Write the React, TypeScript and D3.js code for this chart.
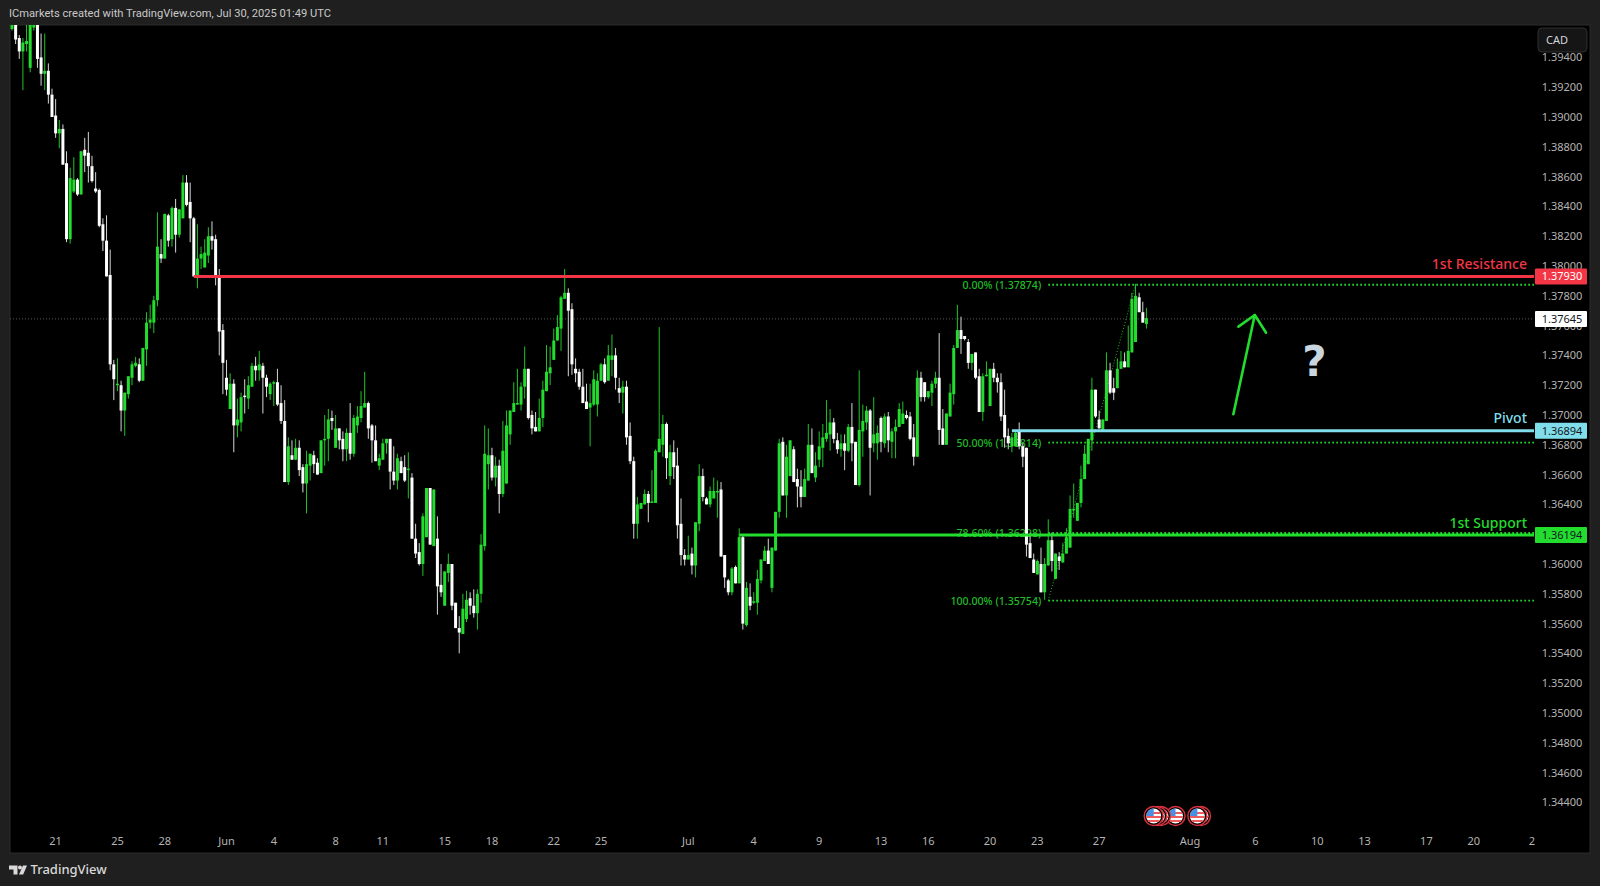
import { useEffect, useRef } from "react";
import * as d3 from "d3";

// candles are [open, high, low, close] in 1/10000 of a price unit
type Candle = number[];

const mayDrop: Candle[] = [
  [13959,13975,13958,13965],[13970,13980,13949,13952],[13953,13955,13939,13944],[13944,13953,13918,13950],
  [13949,13965,13944,13951],[13933,13970,13930,13964],[13960,13975,13958,13963],[13968,13975,13933,13939],
  [13940,13956,13921,13929],[13929,13956,13918,13931],[13931,13936,13909,13915],[13915,13919,13900,13900],
  [13901,13912,13886,13889],[13889,13898,13879,13892],[13892,13895,13868,13868],[13869,13877,13816,13818],
  [13818,13866,13815,13859],[13850,13873,13849,13858],[13858,13859,13847,13848],[13848,13877,13848,13877],
  [13878,13886,13863,13874],[13876,13890,13856,13867],[13867,13874,13856,13857],[13852,13863,13849,13850],
  [13851,13852,13826,13827],[13828,13832,13810,13817],[13817,13834,13793,13793],[13794,13811,13730,13734],
];
const mayRebound: Candle[] = [
  [13734,13737,13710,13724],[13720,13738,13716,13721],[13720,13723,13689,13703],[13703,13715,13686,13715],
  [13714,13726,13711,13726],[13725,13736,13720,13734],[13733,13739,13732,13735],[13734,13738,13722,13723],
  [13723,13745,13723,13745],[13744,13769,13733,13762],[13762,13774,13758,13764],[13762,13780,13755,13777],
  [13777,13836,13773,13813],[13808,13818,13802,13805],[13805,13835,13805,13835],[13834,13835,13813,13817],
  [13818,13840,13813,13839],[13839,13845,13809,13821],[13821,13838,13819,13838],[13832,13861,13832,13856],
  [13856,13861,13840,13841],[13843,13856,13816,13832],[13832,13833,13793,13793],[13793,13828,13785,13805],
  [13805,13813,13798,13808],[13799,13818,13799,13809],[13807,13826,13802,13820],[13820,13830,13811,13817],
  [13818,13821,13787,13793],
];
const juneSlide: Candle[] = [
  [13793,13798,13740,13756],[13757,13761,13714,13735],[13725,13737,13713,13717],[13704,13728,13704,13721],
  [13721,13724,13675,13693],[13693,13711,13685,13697],[13695,13715,13689,13712],[13713,13724,13701,13712],
  [13711,13726,13704,13720],[13719,13735,13719,13733],[13733,13739,13723,13730],[13730,13743,13723,13734],
  [13733,13735,13701,13725],[13725,13727,13712,13719],[13714,13722,13710,13721],[13721,13723,13706,13722],
  [13722,13731,13706,13707],[13708,13720,13694,13696],[13696,13710,13655,13655],[13655,13685,13653,13679],
  [13673,13683,13670,13670],[13670,13684,13670,13678],[13678,13683,13659,13663],[13665,13667,13648,13654],
  [13654,13676,13634,13667],[13666,13674,13656,13674],[13673,13676,13661,13667],[13668,13671,13660,13660],
];
const juneChop: Candle[] = [
  [13661,13683,13661,13683],[13683,13700,13666,13684],[13684,13704,13669,13697],[13698,13703,13690,13696],
  [13678,13700,13678,13691],[13691,13691,13677,13683],[13684,13689,13669,13677],[13677,13691,13669,13688],
  [13688,13708,13670,13674],[13674,13700,13672,13698],[13693,13706,13688,13699],[13698,13716,13695,13706],
  [13705,13729,13705,13708],[13708,13709,13684,13691],[13693,13694,13668,13683],[13683,13693,13669,13669],
  [13666,13674,13663,13671],[13670,13684,13670,13681],[13681,13684,13674,13684],[13684,13684,13650,13662],
  [13662,13679,13653,13656],[13656,13674,13650,13671],[13669,13672,13661,13661],[13665,13673,13655,13656],
  [13663,13675,13644,13664],[13658,13661,13617,13617],[13617,13627,13604,13607],[13608,13614,13599,13600],
  [13600,13634,13592,13632],[13618,13651,13618,13651],[13651,13651,13613,13613],[13612,13650,13612,13650],
  [13617,13632,13566,13585],[13586,13600,13578,13581],[13572,13595,13572,13595],[13594,13607,13588,13600],
  [13600,13600,13569,13572],[13574,13574,13557,13557],[13557,13565,13540,13554],
];
const juneRally: Candle[] = [
  [13553,13580,13553,13570],[13563,13582,13561,13576],[13577,13581,13566,13572],[13572,13583,13564,13567],
  [13567,13583,13556,13580],[13580,13620,13574,13613],[13612,13693,13609,13674],[13667,13691,13650,13673],
  [13673,13678,13656,13658],[13658,13672,13652,13666],[13666,13670,13634,13647],[13647,13696,13645,13676],
  [13654,13703,13654,13693],[13687,13703,13680,13703],[13702,13722,13702,13708],[13707,13731,13707,13708],
  [13707,13722,13703,13719],[13719,13746,13711,13731],[13731,13731,13697,13698],[13700,13703,13687,13691],
  [13692,13702,13689,13689],[13689,13711,13689,13698],[13698,13723,13692,13717],[13716,13747,13716,13729],
  [13728,13746,13720,13732],[13737,13758,13737,13750],[13750,13767,13750,13759],[13758,13780,13743,13779],
  [13778,13798,13778,13782],
];
const juneFade: Candle[] = [
  [13782,13785,13726,13770],[13771,13775,13727,13734],[13731,13738,13722,13728],[13729,13731,13717,13719],
  [13719,13731,13708,13708],[13709,13721,13704,13704],[13705,13721,13679,13708],[13707,13730,13706,13724],
  [13707,13728,13699,13723],[13723,13735,13723,13734],[13734,13738,13721,13722],[13723,13747,13723,13740],
  [13737,13754,13726,13740],[13740,13745,13717,13725],[13718,13725,13708,13715],[13715,13723,13701,13719],
  [13719,13723,13680,13685],[13686,13695,13667,13669],[13669,13672,13617,13627],[13627,13645,13617,13640],
  [13637,13641,13637,13641],[13640,13650,13640,13647],[13647,13649,13628,13641],[13641,13663,13641,13642],
  [13641,13677,13641,13676],[13675,13759,13675,13684],[13680,13700,13672,13694],[13694,13695,13657,13671],
  [13659,13680,13653,13675],[13675,13683,13657,13665],[13666,13678,13617,13626],[13627,13644,13599,13606],
  [13606,13610,13599,13603],[13603,13619,13603,13606],[13607,13611,13593,13599],[13599,13628,13591,13628],
  [13627,13667,13622,13659],[13659,13664,13642,13645],[13644,13645,13640,13640],[13640,13652,13638,13649],
  [13644,13658,13644,13649],[13648,13656,13631,13649],[13650,13655,13605,13605],[13606,13606,13584,13591],
  [13589,13590,13579,13581],[13581,13598,13579,13597],[13598,13599,13587,13587],[13587,13624,13587,13618],
];
const julyBase: Candle[] = [
  [13618,13619,13556,13560],[13559,13588,13558,13584],[13578,13587,13569,13572],[13574,13581,13573,13575],
  [13574,13596,13566,13590],[13589,13603,13587,13603],[13602,13612,13602,13609],[13609,13617,13600,13600],
  [13584,13611,13581,13611],[13609,13635,13609,13635],[13635,13684,13631,13681],[13682,13685,13646,13646],
  [13646,13680,13631,13672],[13659,13683,13659,13683],[13677,13679,13655,13655],[13657,13664,13638,13652],
  [13652,13663,13638,13645],[13645,13664,13645,13657],[13656,13694,13656,13680],[13680,13691,13661,13661],
  [13658,13675,13655,13666],[13670,13689,13665,13679],[13678,13694,13665,13685],[13684,13710,13682,13688],
  [13687,13704,13676,13695],[13695,13698,13681,13684],[13683,13688,13674,13677],[13677,13687,13672,13681],
  [13681,13687,13663,13676],[13676,13694,13675,13692],[13692,13708,13669,13681],[13682,13682,13653,13653],
  [13653,13730,13652,13690],[13689,13707,13672,13696],[13695,13706,13690,13703],[13703,13704,13646,13678],
];
const julyChop: Candle[] = [
  [13681,13712,13675,13687],[13681,13693,13670,13688],[13698,13699,13675,13682],[13681,13701,13678,13699],
  [13699,13702,13675,13683],[13682,13691,13671,13689],[13689,13697,13671,13692],[13692,13708,13692,13704],
  [13694,13709,13694,13701],[13700,13703,13697,13698],[13699,13702,13683,13684],[13685,13694,13666,13672],
  [13672,13730,13672,13725],[13725,13729,13709,13712],[13722,13722,13709,13712],[13712,13716,13711,13716],
  [13715,13723,13706,13721],[13721,13729,13718,13725],[13725,13755,13680,13690],[13691,13704,13680,13680],
  [13680,13701,13680,13701],[13699,13721,13699,13715],[13714,13747,13707,13745],[13745,13774,13745,13757],
  [13757,13766,13741,13751],[13753,13753,13750,13751],[13749,13751,13731,13735],[13735,13741,13730,13741],
  [13742,13742,13724,13725],[13726,13731,13702,13702],[13702,13728,13696,13726],[13726,13736,13726,13727],
  [13706,13731,13706,13731],[13731,13735,13722,13725],[13725,13728,13715,13722],[13722,13728,13696,13699],
  [13700,13717,13678,13685],[13686,13691,13677,13681],[13679,13688,13675,13685],[13679,13690,13679,13688],
  [13689,13695,13677,13679],[13679,13681,13665,13672],
];
const julyBreak: Candle[] = [
  [13678,13678,13605,13613],[13614,13621,13604,13604],[13603,13607,13594,13594],[13593,13603,13593,13602],
  [13600,13611,13581,13581],[13581,13604,13576,13600],[13599,13630,13599,13616],[13616,13621,13595,13602],
  [13590,13607,13590,13607],[13605,13608,13596,13602],[13601,13614,13601,13607],[13607,13624,13607,13618],
  [13611,13646,13611,13637],[13636,13654,13631,13637],[13629,13641,13629,13641],[13641,13666,13638,13657],
  [13657,13680,13657,13674],[13667,13684,13667,13684],[13683,13725,13676,13717],[13717,13717,13698,13699],
  [13697,13703,13691,13691],[13690,13697,13689,13697],[13696,13742,13696,13730],[13730,13735,13714,13715],
  [13718,13725,13710,13715],[13718,13738,13718,13731],[13731,13743,13731,13736],[13736,13742,13732,13732],
  [13732,13760,13732,13743],[13742,13782,13742,13778],[13749,13788,13749,13780],[13779,13782,13769,13769],
  [13769,13776,13762,13762],[13761,13772,13758,13765],
];
const candles: Candle[] = [
  ...mayDrop, ...mayRebound, ...juneSlide, ...juneChop, ...juneRally, ...juneFade,
  ...julyBase, ...julyChop, ...julyBreak,
];

const priceTicks = d3.range(0, 26).map(i => 1.344 + i * 0.002);
const timeTickBars = [12,29,42,59,72,89,102,119,132,149,162,186,204,222,239,252,269,282,299,324,342,359,372,389,402,418];
const timeTickLabels = ["21","25","28","Jun","4","8","11","15","18","22","25","Jul","4","9","13","16","20","23","27","Aug","6","10","13","17","20","2"];

const resistance = 1.3793;
const pivot = 1.36894;
const support = 1.36194;
const lastPrice = 1.37645;
const resistanceStartBar = 50;
const pivotStartBar = 275;
const supportStartBar = 200;
const fibStartBar = 285;
const fibEndBar = 309;
const fibLevels = [
  { label: "0.00% (1.37874)", price: 1.37874 },
  { label: "50.00% (1.36814)", price: 1.36814 },
  { label: "78.60% (1.36208)", price: 1.36208 },
  { label: "100.00% (1.35754)", price: 1.35754 },
];
const arrowShaft: [number, number][] = [[335.9, 1.37005], [341.8, 1.37671]];
const arrowHead: [number, number][] = [[337.3, 1.37593], [341.8, 1.37671], [344.9, 1.37552]];
const eventBars = [327, 326, 320, 316, 315, 314];

const GREEN = "#22dd2e";
const GREEN_WICK = "#1fc428";
const GREEN_TEXT = "#20bd28";
const RED = "#f23645";
const CYAN = "#80deea";
const FRAME = "#1f1f1f";
const FONT = "'Noto Sans', sans-serif";

export default function App() {
  const ref = useRef<SVGSVGElement | null>(null);

  useEffect(() => {
    if (!ref.current) return;
    const svg = d3.select(ref.current);
    svg.selectAll("*").remove();

    const left = 10, right = 1590, top = 25, bottom = 853, lineEnd = 1534;
    const x = d3.scaleLinear().domain([0, 312]).range([12, 12 + 312 * 3.636]);
    const y = d3.scaleLinear().domain([1.36, 1.38]).range([564, 266]);

    svg.append("rect").attr("width", 1600).attr("height", 886).attr("fill", FRAME);
    svg.append("rect")
      .attr("x", left).attr("y", top)
      .attr("width", right - left).attr("height", bottom - top)
      .attr("fill", "#000").attr("stroke", "#2c2c2c");

    const defs = svg.append("defs");
    defs.append("clipPath").attr("id", "plot-clip").append("rect")
      .attr("x", left).attr("y", top).attr("width", lineEnd - left).attr("height", bottom - top);
    defs.append("clipPath").attr("id", "flag-clip").append("circle").attr("r", 7.5);

    svg.append("text")
      .attr("x", 9).attr("y", 17)
      .attr("font-family", "Roboto, sans-serif").attr("font-size", 11.15).attr("fill", "#c9c9c9")
      .text("ICmarkets created with TradingView.com, Jul 30, 2025 01:49 UTC");

    const plot = svg.append("g").attr("clip-path", "url(#plot-clip)");

    // last price line and fib sit under the candles
    plot.append("line")
      .attr("x1", left).attr("x2", lineEnd)
      .attr("y1", y(lastPrice)).attr("y2", y(lastPrice))
      .attr("stroke", "#5a5a5a").attr("stroke-dasharray", "1 2");

    plot.selectAll("line.fib")
      .data(fibLevels)
      .join("line")
      .attr("class", "fib")
      .attr("x1", x(fibStartBar)).attr("x2", lineEnd)
      .attr("y1", d => y(d.price)).attr("y2", d => y(d.price))
      .attr("stroke", "#1fd028").attr("stroke-width", 1.8).attr("stroke-dasharray", "1.8 2.2");

    plot.selectAll("text.fib")
      .data(fibLevels)
      .join("text")
      .attr("class", "fib")
      .attr("x", x(fibStartBar) - 7).attr("y", d => y(d.price) + 4)
      .attr("text-anchor", "end")
      .attr("font-family", FONT).attr("font-size", 10.6).attr("font-weight", 500).attr("fill", GREEN_TEXT)
      .text(d => d.label);

    plot.append("line")
      .attr("x1", x(fibStartBar)).attr("x2", x(fibEndBar))
      .attr("y1", y(fibLevels[3].price)).attr("y2", y(fibLevels[0].price))
      .attr("stroke", GREEN_TEXT).attr("stroke-dasharray", "1 2");

    const candle = plot.selectAll("g.candle")
      .data(candles)
      .join("g")
      .attr("class", "candle");

    candle.append("line")
      .attr("x1", (_, i) => x(i)).attr("x2", (_, i) => x(i))
      .attr("y1", d => y(d[1] / 10000)).attr("y2", d => y(d[2] / 10000))
      .attr("stroke", d => (d[3] >= d[0] ? GREEN_WICK : "#d6d6d6"))
      .attr("stroke-width", 1);

    candle.append("rect")
      .attr("x", (_, i) => x(i) - 1.5)
      .attr("y", d => y(Math.max(d[0], d[3]) / 10000))
      .attr("width", 3)
      .attr("height", d => Math.max(1.5, Math.abs(y(d[0] / 10000) - y(d[3] / 10000))))
      .attr("fill", d => (d[3] >= d[0] ? GREEN : "#ffffff"));

    // horizontal levels go over the candles
    const levels = [
      { bar: resistanceStartBar, price: resistance, color: RED },
      { bar: pivotStartBar, price: pivot, color: CYAN },
      { bar: supportStartBar, price: support, color: GREEN },
    ];
    plot.selectAll("line.level")
      .data(levels)
      .join("line")
      .attr("class", "level")
      .attr("x1", d => x(d.bar)).attr("x2", lineEnd)
      .attr("y1", d => y(d.price)).attr("y2", d => y(d.price))
      .attr("stroke", d => d.color).attr("stroke-width", 3);

    const levelNames = [
      { text: "1st Resistance", price: resistance, color: RED },
      { text: "Pivot", price: pivot, color: CYAN },
      { text: "1st Support", price: support, color: GREEN },
    ];
    svg.selectAll("text.level")
      .data(levelNames)
      .join("text")
      .attr("class", "level")
      .attr("x", 1527).attr("y", d => y(d.price) - 7.5)
      .attr("text-anchor", "end")
      .attr("font-family", FONT).attr("font-size", 14).attr("font-weight", 500)
      .attr("fill", d => d.color)
      .text(d => d.text);

    // hand drawn arrow and question mark
    const line = d3.line<[number, number]>().x(d => x(d[0])).y(d => y(d[1]));
    [arrowShaft, arrowHead].forEach(pts => {
      plot.append("path")
        .attr("d", line(pts))
        .attr("fill", "none").attr("stroke", GREEN)
        .attr("stroke-width", 2.6).attr("stroke-linecap", "round").attr("stroke-linejoin", "round");
    });
    svg.append("text")
      .attr("x", 1314.5).attr("y", 376)
      .attr("text-anchor", "middle")
      .attr("font-family", "'DejaVu Sans', sans-serif").attr("font-weight", 700).attr("font-size", 42)
      .attr("fill", "#c9d6df")
      .text("?");

    // right price scale
    const priceLabels = svg.append("g");
    priceLabels.selectAll("text")
      .data(priceTicks)
      .join("text")
      .attr("x", 1562).attr("y", d => y(d) + 4)
      .attr("text-anchor", "middle")
      .attr("font-family", FONT).attr("font-size", 11).attr("fill", "#b4b4b4")
      .text(d => d3.format(".5f")(d));

    const priceTags = [
      { price: resistance, bg: RED, fg: "#ffffff" },
      { price: lastPrice, bg: "#ffffff", fg: "#131722" },
      { price: pivot, bg: CYAN, fg: "#131722" },
      { price: support, bg: GREEN, fg: "#131722" },
    ];
    const tag = svg.selectAll("g.tag").data(priceTags).join("g").attr("class", "tag");
    tag.append("rect")
      .attr("x", 1535).attr("y", d => y(d.price) - 8)
      .attr("width", 52).attr("height", 16).attr("rx", 1)
      .attr("fill", d => d.bg);
    tag.append("text")
      .attr("x", 1562).attr("y", d => y(d.price) + 4)
      .attr("text-anchor", "middle")
      .attr("font-family", FONT).attr("font-size", 11)
      .attr("fill", d => d.fg)
      .text(d => d3.format(".5f")(d.price));

    // currency button
    svg.append("rect")
      .attr("x", 1538).attr("y", 28).attr("width", 49).attr("height", 24).attr("rx", 4)
      .attr("fill", "#151515").attr("stroke", "#2e2e2e");
    svg.append("text")
      .attr("x", 1546).attr("y", 44)
      .attr("font-family", FONT).attr("font-size", 11).attr("fill", "#d1d4dc")
      .text("CAD");

    // time labels
    svg.append("g").selectAll("text")
      .data(timeTickBars)
      .join("text")
      .attr("x", d => x(d)).attr("y", 845)
      .attr("text-anchor", "middle")
      .attr("font-family", FONT).attr("font-size", 11)
      .attr("fill", "#b4b4b4")
      .text((_, i) => timeTickLabels[i]);

    // economic event badges
    const badge = svg.selectAll("g.badge")
      .data(eventBars)
      .join("g")
      .attr("class", "badge")
      .attr("transform", d => `translate(${x(d)},816)`);
    badge.append("circle").attr("r", 9.5).attr("fill", "#000").attr("stroke", "#d8323f").attr("stroke-width", 1.4);
    const flag = badge.append("g").attr("clip-path", "url(#flag-clip)");
    flag.append("rect").attr("x", -8).attr("y", -8).attr("width", 16).attr("height", 16).attr("fill", "#ffffff");
    [-4, 0, 4].forEach(s => {
      flag.append("rect").attr("x", -8).attr("y", s).attr("width", 16).attr("height", 2).attr("fill", "#ef5b5b");
    });
    flag.append("rect").attr("x", -8).attr("y", -8).attr("width", 8).attr("height", 8).attr("fill", "#4a90e2");

    // footer logo
    const logo = svg.append("g").attr("fill", "#d9d9d9");
    logo.append("path").attr("d", "M9 865.5h8.5v9h-4v-5h-4.5z");
    logo.append("circle").attr("cx", 20).attr("cy", 867.5).attr("r", 2);
    logo.append("path").attr("d", "M23 865.5h4l-3.8 9h-4.2z");
    svg.append("text")
      .attr("x", 30.5).attr("y", 874)
      .attr("font-family", FONT).attr("font-size", 13).attr("font-weight", 500).attr("fill", "#d9d9d9")
      .text("TradingView");
  }, []);

  return (
    <svg
      ref={ref}
      width={1600}
      height={886}
      style={{ position: "absolute", left: 0, top: 0, display: "block" }}
    />
  );
}
